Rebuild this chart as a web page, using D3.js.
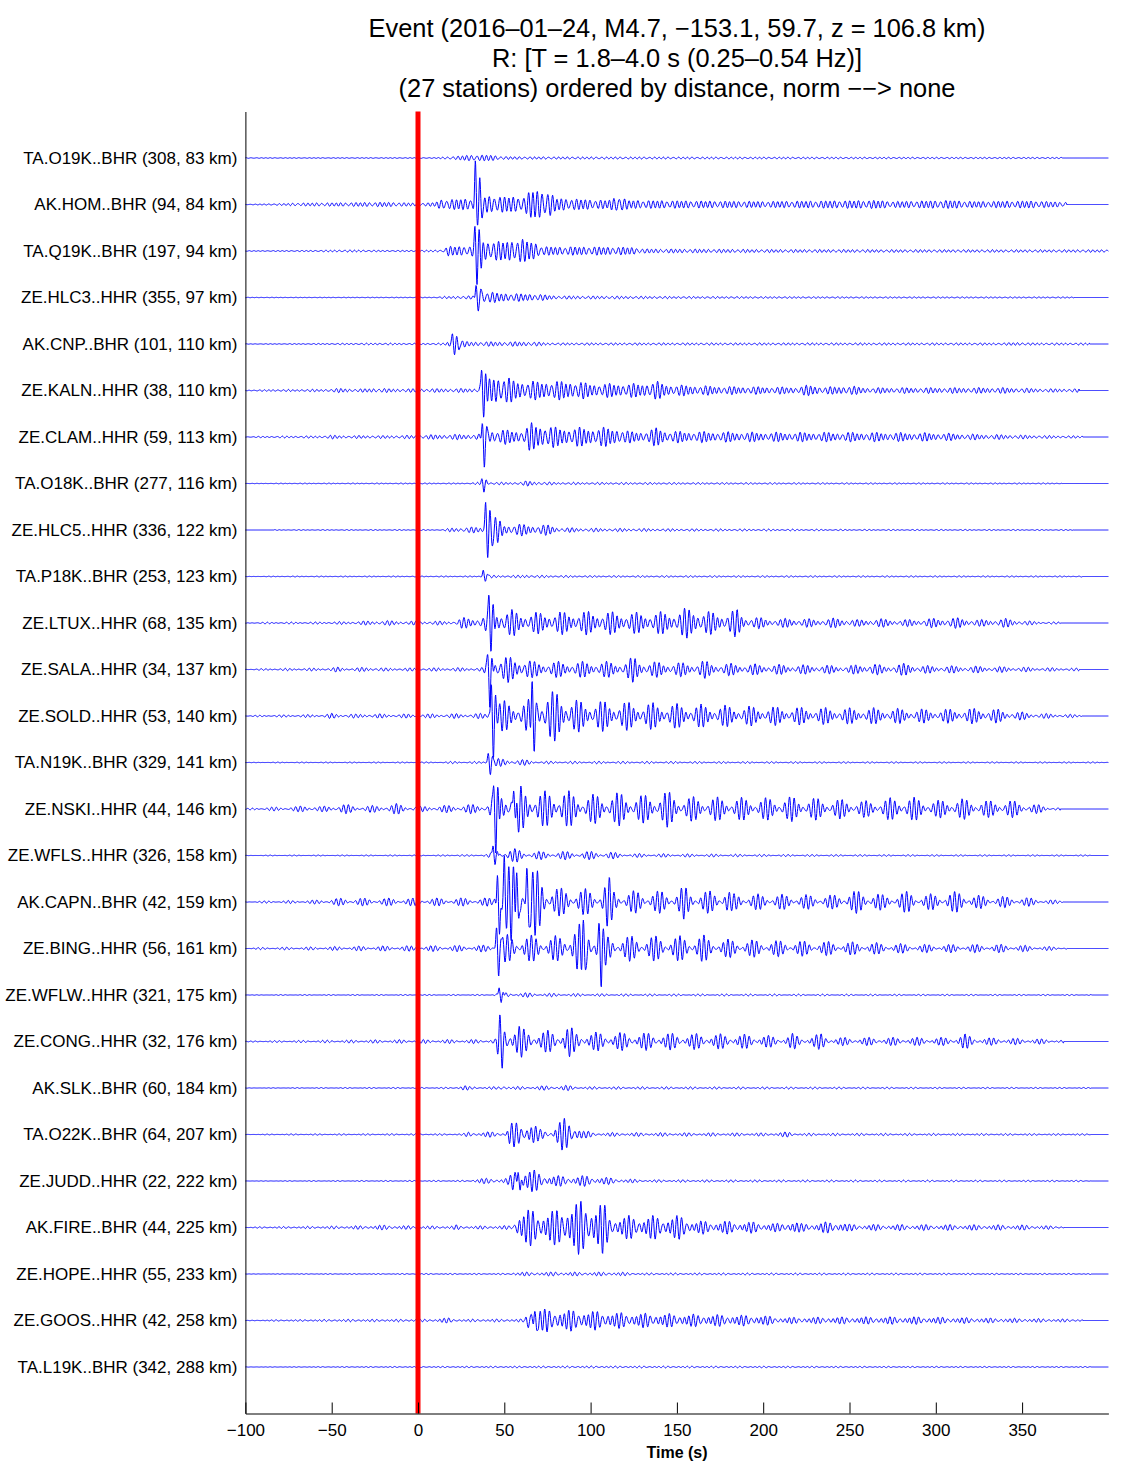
<!DOCTYPE html>
<html><head><meta charset="utf-8">
<script src="https://cdn.jsdelivr.net/npm/d3@7"></script>
<style>
body{margin:0;background:#fff;}
svg text{font-family:"Liberation Sans",Arial,Helvetica,sans-serif;fill:#000;}
</style></head>
<body><svg id="chart" width="1129" height="1471"></svg>
<script>
// ---------------- DATA ----------------
const titleLines = [
  "Event (2016\u201301\u201324, M4.7, \u2212153.1, 59.7, z = 106.8 km)",
  "R: [T = 1.8\u20134.0 s (0.25\u20130.54 Hz)]",
  "(27 stations) ordered by distance, norm \u2212\u2212> none"
];
const stations = [
  "TA.O19K..BHR (308, 83 km)","AK.HOM..BHR (94, 84 km)","TA.Q19K..BHR (197, 94 km)",
  "ZE.HLC3..HHR (355, 97 km)","AK.CNP..BHR (101, 110 km)","ZE.KALN..HHR (38, 110 km)",
  "ZE.CLAM..HHR (59, 113 km)","TA.O18K..BHR (277, 116 km)","ZE.HLC5..HHR (336, 122 km)",
  "TA.P18K..BHR (253, 123 km)","ZE.LTUX..HHR (68, 135 km)","ZE.SALA..HHR (34, 137 km)",
  "ZE.SOLD..HHR (53, 140 km)","TA.N19K..BHR (329, 141 km)","ZE.NSKI..HHR (44, 146 km)",
  "ZE.WFLS..HHR (326, 158 km)","AK.CAPN..BHR (42, 159 km)","ZE.BING..HHR (56, 161 km)",
  "ZE.WFLW..HHR (321, 175 km)","ZE.CONG..HHR (32, 176 km)","AK.SLK..BHR (60, 184 km)",
  "TA.O22K..BHR (64, 207 km)","ZE.JUDD..HHR (22, 222 km)","AK.FIRE..BHR (44, 225 km)",
  "ZE.HOPE..HHR (55, 233 km)","ZE.GOOS..HHR (42, 258 km)","TA.L19K..BHR (342, 288 km)"
];
const timeTicks = [-100,-50,0,50,100,150,200,250,300,350];
const timeDomain = [-100, 400];
const originTime = 0;
// end of recorded data for each trace (s)
const traceEnd = [373,376,400,380,389,383,385,373,380,385,372,383,385,400,372,390,374,376,390,374,390,390,390,374,390,385,390];
// amplitude envelopes: [time (s), half-amplitude (px-equivalent units)]
const envelopes = [
 [[-100,0.3],[10,0.4],[17,1],[28,2.5],[40,3],[48,1.5],[60,1.2],[100,1],[200,0.8],[370,0.6]],
 [[-100,0.2],[-85,0.6],[-70,1.4],[-40,1.8],[-20,2.2],[-10,1.8],[0,1.2],[10,2],[13,4.5],[30,5.5],[33,6],[40,8],[62,7],[65,14],[76,12],[80,6],[110,4],[116,8],[122,4],[200,3],[266,4],[275,3],[309,4],[320,3],[357,3.5],[370,2.5]],
 [[-100,0.3],[-60,0.6],[-40,1],[-20,0.6],[0,0.6],[15,1],[17,4.5],[31,4.5],[36,9],[50,9],[60,11],[68,8],[72,4],[100,4],[125,3.5],[130,2],[200,1.5],[300,1.3],[400,1.2]],
 [[-100,0.2],[10,0.3],[15,1],[32,1.5],[36,6],[48,4],[70,3],[80,1.5],[150,1],[250,0.6],[380,0.5]],
 [[-100,0.2],[-70,0.4],[-20,0.8],[0,0.6],[15,0.8],[19,3],[25,3],[30,2],[67,2],[75,1],[340,1],[347,1.6],[355,1],[389,0.9]],
 [[-100,0.3],[-85,0.8],[-50,1.2],[-45,2],[-35,1.2],[-26,2],[-15,1.5],[0,1.5],[35,1.8],[37,10],[45,14],[54,10],[60,8],[92,8],[100,6],[130,6],[138,8],[145,5],[180,3.5],[220,3],[227,5],[235,3],[250,4],[260,2.5],[340,2.5],[364,1.5]],
 [[-100,0.2],[-90,0.6],[-55,1],[-50,1.6],[-40,1],[-32,1.4],[-20,1.2],[0,1.5],[10,2],[36,2.5],[40,6],[62,6],[65,12],[76,10],[80,8],[116,8],[120,5],[134,5],[139,9],[144,5],[200,4],[225,4],[260,4],[300,3.5],[320,2.5],[355,1.5],[374,1]],
 [[-100,0.1],[-75,0.3],[30,0.4],[35,1],[45,1],[60,1.2],[63,2.2],[70,1.5],[80,1],[150,0.8],[250,0.5],[373,0.4]],
 [[-100,0],[-84,0],[-83,0.3],[15,0.4],[20,2],[38,2.5],[40,10],[46,10],[50,5],[77,4],[82,2],[100,1.5],[150,1],[250,0.5],[380,0.4]],
 [[-100,0.1],[-80,0.3],[35,0.4],[37,1],[45,1],[60,1],[63,2],[68,1],[100,0.7],[250,0.5],[385,0.4]],
 [[-100,0.2],[-90,0.6],[-60,0.8],[-40,1.2],[-20,2],[-10,1.5],[0,1.5],[22,1.5],[25,4],[38,5],[43,10],[55,10],[60,8],[100,9],[130,8],[150,9],[159,13],[165,9],[180,8],[185,11],[190,5],[210,3],[215,4],[230,3],[245,4],[255,2.5],[265,3.5],[280,2.5],[305,4],[315,4],[325,2.5],[340,3.5],[350,2],[360,1],[372,0.8]],
 [[-100,0.2],[-85,0.8],[-50,1.2],[-47,2],[-40,1],[-28,2],[-20,1.2],[0,1.2],[38,1.5],[42,10],[63,9],[66,6],[120,6],[125,10],[131,6],[160,5],[165,7],[170,5],[200,4],[250,3],[262,5],[270,3],[285,5],[290,3],[330,2.5],[360,1.5],[383,1]],
 [[-100,0.3],[-85,0.8],[-55,1.2],[-50,2],[-45,1.2],[-40,2],[-35,1.2],[-30,2],[-20,1.5],[0,1.5],[40,2],[44,12],[60,10],[64,12],[72,15],[82,20],[88,12],[130,10],[200,7],[245,6],[265,6],[300,5],[330,6],[345,3.5],[360,2],[385,1]],
 [[-100,0.1],[-80,0.3],[15,0.4],[23,1.2],[27,0.5],[38,1],[45,3],[63,2],[70,1],[150,0.8],[250,0.5],[400,0.4]],
 [[-100,0.3],[-92,1.2],[-70,1.8],[-64,3.5],[-58,1.8],[-50,2.5],[-45,4],[-35,2.2],[-20,2.8],[-12,4],[-5,2.2],[0,1.8],[10,2.5],[25,3],[40,4],[45,12],[56,18],[70,12],[82,15],[95,10],[117,12],[130,10],[144,13],[155,9],[200,8],[218,9],[230,8],[260,6],[280,9],[292,8],[300,6],[310,8],[330,6],[340,7],[355,4],[365,2],[372,1]],
 [[-100,0.1],[-85,0.3],[15,0.4],[24,1],[27,0.4],[40,1],[47,4],[57,5],[63,3],[110,3],[118,1.5],[200,0.8],[300,0.5],[390,0.4]],
 [[-100,0.2],[-90,0.8],[-60,1.4],[-45,2.8],[0,2.8],[40,3],[44,3],[46,26],[62,28],[70,22],[76,14],[82,10],[106,9],[110,20],[114,8],[150,8],[154,12],[158,8],[175,8],[178,12],[182,6],[240,5],[250,8],[262,8],[270,5],[285,8],[290,5],[316,8],[322,5],[350,3.5],[368,1.5],[374,1]],
 [[-100,0.2],[-92,0.8],[-60,1.2],[-30,1.8],[0,2],[40,2.5],[45,3],[47,10],[84,9],[88,18],[106,18],[110,9],[160,9],[165,10],[170,7],[200,6],[260,4.5],[290,3],[340,3],[365,1.5],[376,1]],
 [[-100,0.1],[-80,0.3],[40,0.4],[44,1],[50,2],[80,1.2],[120,0.8],[300,0.5],[390,0.4]],
 [[-100,0.2],[-90,0.6],[-30,1.2],[0,1.4],[40,1.5],[45,2],[47,14],[59,13],[62,8],[83,8],[87,13],[91,7],[150,6],[200,5],[210,3],[217,6],[222,3],[234,6],[240,3],[310,3],[316,6],[322,3],[360,2],[374,1]],
 [[-100,0.1],[-70,0.3],[20,0.5],[26,2.5],[30,1],[47,1],[50,3.5],[54,1],[86,2],[94,1],[200,0.8],[300,0.5],[390,0.4]],
 [[-100,0.1],[-80,0.4],[26,0.6],[29,2],[48,2],[51,2],[53,9],[60,9],[65,12],[70,4],[78,3],[80,9],[84,12],[92,9],[96,3],[102,1.5],[200,1.2],[215,2],[220,1],[300,0.8],[390,0.6]],
 [[-100,0.1],[-70,0.3],[30,0.5],[33,2],[50,2],[53,3],[56,10],[62,10],[70,7],[80,4],[100,4],[115,2],[130,1],[250,0.7],[390,0.5]],
 [[-100,0.1],[-90,0.6],[-40,1.2],[-16,2],[-10,1.5],[0,1.2],[20,1.2],[22,2],[25,1.2],[55,1.5],[58,14],[80,13],[86,20],[107,20],[111,9],[155,9],[160,5],[178,5],[200,4],[210,3],[217,6],[222,3],[245,5],[250,2.5],[350,2],[374,1]],
 [[-100,0.1],[-60,0.3],[52,0.5],[56,1.5],[78,1.5],[80,2.2],[83,1.5],[117,1.5],[127,0.8],[300,0.6],[390,0.4]],
 [[-100,0.1],[-85,0.5],[-40,1],[10,1],[13,2],[18,2],[21,1],[62,1.2],[64,12],[70,12],[72,9],[96,8],[120,6],[200,4],[210,2.5],[270,3],[290,3],[330,2],[360,1.5],[385,1]],
 [[-100,0.1],[-60,0.3],[50,0.6],[100,0.8],[200,0.6],[390,0.4]]
];
// impulsive arrivals: [time (s), signed amplitude (px-equivalent units, up positive)]
const pulses = [
 [],
 [[33.2,40],[34.4,-19],[35.7,25],[36.9,-12]],
 [[33,19],[34.2,-27],[35.5,15],[36.7,-10]],
 [[33.6,13],[34.8,-15],[36.2,8]],
 [[20,9],[21.2,-9],[22.4,6],[23.6,-5]],
 [[37,25],[38.2,-27],[39.5,12]],
 [[37.2,15],[38.4,-33],[39.7,12]],
 [[37,4],[38.2,-8],[39.5,3]],
 [[39.2,26],[40.4,-23],[41.6,15],[42.8,-12]],
 [[37.8,6],[39,-5],[40.2,3]],
 [[41.2,26],[42.4,-24],[43.7,14]],
 [[40.5,16],[41.7,-38],[43,12]],
 [[42.5,35],[43.7,-45],[45,20],[66,34],[67.2,-39],[68.4,15]],
 [[40.7,9],[41.9,-12],[43.1,6]],
 [[44,30],[45.2,-48],[46.5,20],[55.5,32],[56.7,-25]],
 [[43.5,13],[44.7,-12],[46,6]],
 [[46,28],[47.2,-35],[50,30],[57,45],[58.2,-30],[63,35],[64.2,-30]],
 [[45.5,22],[46.7,-31],[48,15],[95.5,22],[96.7,-23],[105,15],[106.2,-21]],
 [[47,9],[48.2,-10],[49.4,5]],
 [[47.5,8],[48.7,-12]],
 [],
 [],
 [[58,13],[59.2,-12]],
 [],
 [],
 [[67.5,12],[68.7,-14]],
 []
];
const traceSpacing = 46.5; // amplitude units per trace offset

// ---------------- CHART ----------------
const svg = d3.select("#chart");
const x = d3.scaleLinear().domain(timeDomain).range([245.4, 1108.4]);
const y = d3.scaleLinear().domain([-1, stations.length]).range([111.5, 1413.5]);

// title
svg.append("g").selectAll("text").data(titleLines).join("text")
  .attr("x", 677).attr("y", (d,i)=>37 + i*30)
  .attr("text-anchor","middle").style("font-size","25.4px").text(d=>d);

// waveforms
function envAt(kp, t){
  if (t <= kp[0][0]) return kp[0][1];
  for (let k=1;k<kp.length;k++){
    if (t <= kp[k][0]){
      const a=kp[k-1], b=kp[k];
      return a[1] + (b[1]-a[1])*(t-a[0])/(b[0]-a[0]);
    }
  }
  return kp[kp.length-1][1];
}
const traces = stations.map((name,i)=>{
  const pts=[];
  const p1=i*1.7, p2=i*2.9+1, p3=i*0.7+2;
  for (let t=timeDomain[0]; t<=timeDomain[1]+1e-9; t+=0.2){
    let v=0;
    if (t <= traceEnd[i]){
      const c = (0.6*Math.sin(2*Math.PI*0.36*t+p1) + 0.3*Math.sin(2*Math.PI*0.43*t+p2) + 0.22*Math.sin(2*Math.PI*0.29*t+p3))/0.78;
      v = envAt(envelopes[i], t)*c;
      for (const [tp,a] of pulses[i]) v += a*Math.exp(-Math.pow((t-tp)/0.55,2));
    }
    pts.push({t, v});
  }
  return {i, pts};
});
const line = d3.line().x(d=>x(d.t));
svg.append("g").selectAll("path").data(traces).join("path")
  .attr("fill","none").attr("stroke","#0000ff").attr("stroke-width",1)
  .attr("d", tr => line.y(d=>y(tr.i - d.v/traceSpacing))(tr.pts));

// origin time red line
svg.append("line").attr("x1",x(originTime)).attr("x2",x(originTime))
  .attr("y1",y.range()[0]).attr("y2",y.range()[1])
  .attr("stroke","#ff0000").attr("stroke-width",5);

// left axis with station labels
const yAxis = d3.axisLeft(y).tickValues(d3.range(stations.length))
  .tickFormat(i=>stations[i]).tickSize(0).tickPadding(8);
const gy = svg.append("g").attr("transform","translate(245.4,0)").call(yAxis);
gy.select(".domain").attr("stroke","#000");
gy.selectAll("text").style("font-size","17px").attr("font-family",null);

// bottom axis
const xAxis = d3.axisBottom(x).tickValues(timeTicks).tickSizeInner(-11).tickSizeOuter(0).tickPadding(20);
const gx = svg.append("g").attr("transform","translate(0,1413.5)").call(xAxis);
gx.selectAll("text").style("font-size","17px").attr("font-family",null).attr("dy","0.32em").attr("y",17);
svg.append("text").attr("x",677).attr("y",1458).attr("text-anchor","middle")
  .style("font-size","16px").style("font-weight","bold").text("Time (s)");
</script></body></html>
